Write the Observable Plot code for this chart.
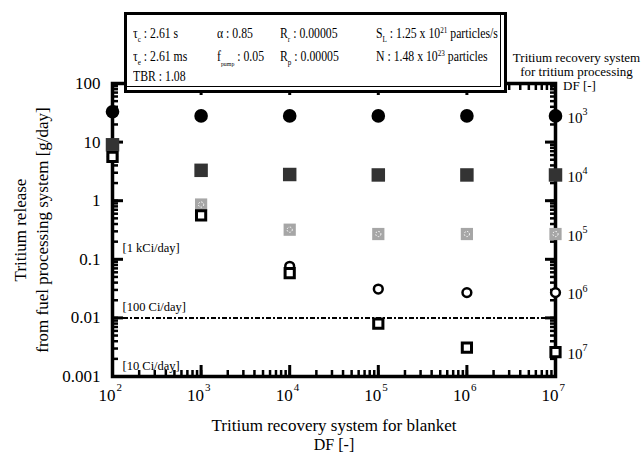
<!DOCTYPE html>
<html><head><meta charset="utf-8">
<script src="https://cdn.jsdelivr.net/npm/d3@7"></script>
<script src="https://cdn.jsdelivr.net/npm/@observablehq/plot@0.6"></script>
<style>
body{margin:0;background:#fff;}
#wrap{position:relative;width:641px;height:454px;font-family:"Liberation Serif","Times New Roman",serif;color:#000;}
#box{position:absolute;left:124px;top:12px;width:383px;height:81px;box-sizing:border-box;border:3px solid #000;background:#fff;box-shadow:inset -3px -3px 0 0 #fff, inset -4px -4px 0 0 #000;font-size:14px;}
#box span.p{position:absolute;white-space:nowrap;line-height:16px;transform:scaleX(0.84);transform-origin:left center;}
.sb{font-size:8.5px;position:relative;top:4px;}
.sbs{font-size:7px;position:relative;top:5px;}
.sp{font-size:8.5px;position:relative;top:-5px;}
</style></head>
<body>
<div id="wrap">
<div id="chart"></div>
<div id="box">
  <span class="p" style="left:6px;top:11px">τ<span class="sb">c</span> : 2.61 s</span>
  <span class="p" style="left:90px;top:11px">α : 0.85</span>
  <span class="p" style="left:153px;top:11px">R<span class="sb">r</span> : 0.00005</span>
  <span class="p" style="left:249px;top:11px">S<span class="sb">L</span> : 1.25 x 10<span class="sp">21</span> particles/s</span>
  <span class="p" style="left:6px;top:34px">τ<span class="sb">e</span> : 2.61 ms</span>
  <span class="p" style="left:90px;top:34px">f<span class="sbs">pump</span> : 0.05</span>
  <span class="p" style="left:153px;top:34px">R<span class="sb">p</span> : 0.00005</span>
  <span class="p" style="left:249px;top:34px">N : 1.48 x 10<span class="sp">23</span> particles</span>
  <span class="p" style="left:6px;top:54px">TBR : 1.08</span>
</div>
</div>
<script>
// ---- data ----
const blanketDF = [1e2, 1e3, 1e4, 1e5, 1e6, 1e7];
const releaseDF1e3 = [33, 28, 28, 28, 28, 28];
const releaseDF1e4 = [9.0, 3.3, 2.8, 2.75, 2.75, 2.75];
const releaseDF1e5 = [5.6, 0.86, 0.32, 0.27, 0.27, 0.27];
const releaseDF1e6 = [5.6, 0.56, 0.076, 0.031, 0.027, 0.027];
const releaseDF1e7 = [5.6, 0.56, 0.058, 0.0080, 0.0031, 0.0026];
const processingDFExp = ["3", "4", "5", "6", "7"];

const xTicks = [1e2, 1e3, 1e4, 1e5, 1e6, 1e7];
const xTickExp = ["2", "3", "4", "5", "6", "7"];
const yTicks = [0.001, 0.01, 0.1, 1, 10, 100];
const yTickLabels = ["0.001", "0.01", "0.1", "1", "10", "100"];

const refLevels = [0.1, 0.01, 0.001];
const refLabels = ["[1 kCi/day]", "[100 Ci/day]", "[10 Ci/day]"];
const limitLine = [0.01];

// ---- build ----
const seriesValues = [releaseDF1e3, releaseDF1e4, releaseDF1e5, releaseDF1e6, releaseDF1e7];
const rows = seriesValues.map((vals, s) => vals.map((v, i) => ({x: blanketDF[i], y: v, s})));
const lastPts = seriesValues.map((vals, s) => ({x: blanketDF[blanketDF.length - 1], y: vals[vals.length - 1], e: processingDFExp[s]}));
const refRows = refLevels.map((v, i) => ({y: v, t: refLabels[i]}));

const font = "Liberation Serif, Times New Roman, serif";
const tickOpts = (anchor, ticks, size, sw) => ({anchor, ticks, tickSize: size, strokeWidth: sw, tickFormat: () => "", label: null});
const title = (t, o) => Plot.text([t], {text: d => d, textAnchor: "middle", lineAnchor: "middle", fill: "black", ...o});

const chart = Plot.plot({
  width: 641, height: 454,
  marginLeft: 112, marginRight: 86, marginTop: 83, marginBottom: 78,
  style: {fontFamily: font, background: "white", color: "black", overflow: "visible"},
  x: {type: "log", domain: [1e2, 1e7]},
  y: {type: "log", domain: [0.001, 100]},
  marks: [
    Plot.ruleY(limitLine, {y: d => d, stroke: "black", strokeWidth: 2, strokeDasharray: "5,2,2,2"}),
    // minor ticks
    Plot.axisY(tickOpts("left", 45, -6, 2.5)),
    Plot.axisY(tickOpts("right", 45, -6, 2.5)),
    Plot.axisX(tickOpts("bottom", 45, -6, 2.5)),
    Plot.axisX(tickOpts("top", 45, -6, 2.5)),
    // major ticks
    Plot.axisY(tickOpts("left", yTicks, -11, 3)),
    Plot.axisY(tickOpts("right", yTicks, -11, 3)),
    Plot.axisX(tickOpts("bottom", xTicks, -11, 3)),
    Plot.axisX(tickOpts("top", xTicks, -11, 3)),
    Plot.frame({stroke: "black", strokeWidth: 3.5}),
    // tick labels
    Plot.text(yTicks, {y: d => d, frameAnchor: "left", dx: -12, textAnchor: "end", lineAnchor: "middle", text: (d, i) => yTickLabels[i], fontSize: 17, fill: "black"}),
    Plot.text(xTicks, {x: d => d, frameAnchor: "bottom", dy: 19, dx: 3, textAnchor: "end", lineAnchor: "middle", text: () => "10", fontSize: 17, fill: "black"}),
    Plot.text(xTicks, {x: d => d, frameAnchor: "bottom", dy: 11, dx: 4, textAnchor: "start", lineAnchor: "middle", text: (d, i) => xTickExp[i], fontSize: 11, fill: "black"}),
    // reference labels
    Plot.text(refRows, {y: "y", frameAnchor: "left", dx: 10, dy: -11, textAnchor: "start", lineAnchor: "middle", text: "t", fontSize: 12.5, fill: "black"}),
    // data
    Plot.dot(rows[0], {x: "x", y: "y", r: 6.8, fill: "black", symbol: "circle"}),
    Plot.dot(rows[1], {x: "x", y: "y", r: 7.6, fill: "#333333", symbol: "square"}),
    Plot.dot(rows[2], {x: "x", y: "y", r: 6.9, fill: "#a6a6a6", symbol: "square"}),
    Plot.dot(rows[2], {x: "x", y: "y", r: 2.6, fill: "none", stroke: "white", strokeWidth: 1, strokeDasharray: "1.5,1.5"}),
    Plot.dot(rows[3], {x: "x", y: "y", r: 4.4, fill: "white", stroke: "black", strokeWidth: 2.5, symbol: "circle"}),
    Plot.dot(rows[4], {x: "x", y: "y", r: 5.2, fill: "white", stroke: "black", strokeWidth: 3, symbol: "square"}),
    // right-side series labels
    Plot.text(lastPts, {x: "x", y: "y", dx: 12, dy: 2, textAnchor: "start", lineAnchor: "middle", text: () => "10", fontSize: 15, fill: "black"}),
    Plot.text(lastPts, {x: "x", y: "y", dx: 27, dy: -4, textAnchor: "start", lineAnchor: "middle", text: "e", fontSize: 10, fill: "black"}),
    // axis titles
    title("Tritium release", {frameAnchor: "left", dx: -92, rotate: -90, fontSize: 17}),
    title("from fuel processing system [g/day]", {frameAnchor: "left", dx: -70, rotate: -90, fontSize: 17}),
    title("Tritium recovery system for blanket", {frameAnchor: "bottom", dy: 49, fontSize: 17}),
    title("DF [-]", {frameAnchor: "bottom", dy: 68, fontSize: 16}),
    title("Tritium recovery system", {frameAnchor: "top-right", dx: 21, dy: -26, fontSize: 13}),
    title("for tritium processing", {frameAnchor: "top-right", dx: 21, dy: -12, fontSize: 13}),
    title("DF [-]", {frameAnchor: "top-right", dx: 24, dy: 2, fontSize: 13})
  ]
});
document.getElementById("chart").appendChild(chart);
</script>
</body></html>
